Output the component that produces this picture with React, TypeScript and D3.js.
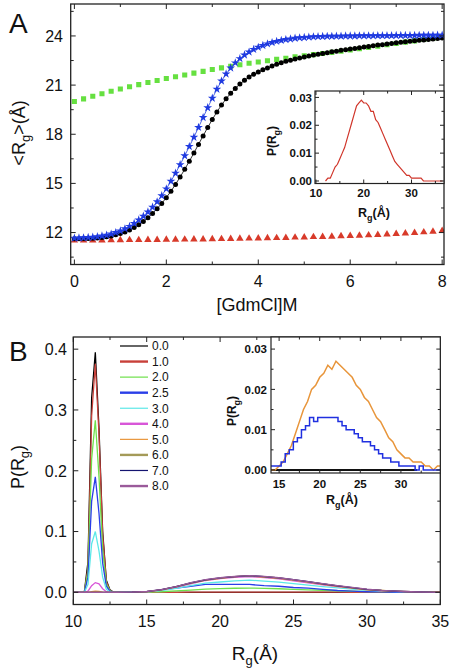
import React from "react";
import * as d3 from "d3";

const FONT = "'Liberation Sans', Arial, Helvetica, sans-serif";

// ---------------- Panel A data ----------------
const CONC_FINE = d3.range(81).map((i) => i / 10); // 0..8 step 0.1
const CONC_COARSE = d3.range(41).map((i) => i / 5); // 0..8 step 0.2

const BLUE_STARS = [
  11.66, 11.67, 11.68, 11.7, 11.72, 11.75, 11.79, 11.84, 11.91, 12.0,
  12.1, 12.23, 12.38, 12.56, 12.77, 13.0, 13.26, 13.55, 13.88, 14.25,
  14.67, 15.13, 15.62, 16.14, 16.69, 17.25, 17.82, 18.42, 19.02, 19.62,
  20.2, 20.75, 21.25, 21.68, 22.05, 22.36, 22.62, 22.84, 23.02, 23.18,
  23.31, 23.42, 23.52, 23.6, 23.67, 23.73, 23.78, 23.82, 23.86, 23.89,
  23.91, 23.93, 23.95, 23.96, 23.97, 23.98, 23.98, 23.99, 23.99, 24.0,
  24.0, 24.0, 24.01, 24.01, 24.01, 24.01, 24.02, 24.02, 24.02, 24.02,
  24.03, 24.03, 24.03, 24.03, 24.03, 24.04, 24.04, 24.04, 24.04, 24.05,
  24.05,
];

const BLACK_DOTS = [
  11.62, 11.62, 11.63, 11.64, 11.65, 11.67, 11.7, 11.74, 11.79, 11.86,
  11.94, 12.04, 12.16, 12.31, 12.48, 12.68, 12.91, 13.17, 13.46, 13.78,
  14.13, 14.52, 14.94, 15.39, 15.86, 16.35, 16.86, 17.38, 17.9, 18.41,
  18.9, 19.36, 19.78, 20.16, 20.5, 20.8, 21.06, 21.29, 21.49, 21.66,
  21.8, 21.93, 22.05, 22.16, 22.27, 22.37, 22.45, 22.52, 22.59, 22.65,
  22.71, 22.77, 22.83, 22.88, 22.93, 22.98, 23.03, 23.07, 23.12, 23.16,
  23.2, 23.24, 23.28, 23.32, 23.36, 23.4, 23.44, 23.47, 23.51, 23.54,
  23.58, 23.61, 23.64, 23.67, 23.7, 23.73, 23.76, 23.79, 23.82, 23.85,
  23.88,
];

const GREEN_SQUARES = [
  20.0, 20.16, 20.32, 20.47, 20.62, 20.76, 20.9, 21.03, 21.16, 21.28,
  21.4, 21.51, 21.62, 21.73, 21.84, 21.95, 22.05, 22.15, 22.24, 22.33,
  22.41, 22.49, 22.57, 22.64, 22.72, 22.79, 22.86, 22.93, 23.0, 23.07,
  23.14, 23.22, 23.3, 23.38, 23.46, 23.54, 23.62, 23.7, 23.78, 23.87,
  23.95,
];

const RED_TRIANGLES = [
  11.52, 11.52, 11.53, 11.53, 11.54, 11.54, 11.55, 11.55, 11.56, 11.56,
  11.57, 11.57, 11.58, 11.59, 11.59, 11.6, 11.61, 11.62, 11.63, 11.64,
  11.65, 11.66, 11.67, 11.68, 11.7, 11.71, 11.73, 11.74, 11.76, 11.78,
  11.8, 11.82, 11.84, 11.86, 11.89, 11.92, 11.95, 11.98, 12.02, 12.06,
  12.1,
];

const A_X_TICKS = [0, 2, 4, 6, 8];
const A_X_MINOR = [1, 3, 5, 7];
const A_Y_TICKS = [12, 15, 18, 21, 24];
const A_Y_MINOR = [10.5, 13.5, 16.5, 19.5, 22.5, 25.5];

// Inset A
const RG_INSET_A = d3.range(50).map((i) => 12 + i * 0.5);
const P_INSET_A = [
  0, 0.001, 0.001, 0.003, 0.005, 0.006, 0.008, 0.01, 0.012, 0.015,
  0.018, 0.021, 0.024, 0.027, 0.028, 0.029, 0.028, 0.028, 0.027, 0.025,
  0.025, 0.022, 0.021, 0.019, 0.017, 0.015, 0.013, 0.011, 0.009, 0.007,
  0.006, 0.005, 0.004, 0.003, 0.002, 0.002, 0.001, 0.001, 0.001, 0.001,
  0.001, 0, 0, 0, 0, 0, 0, 0, 0, 0,
];
const IA_X_TICKS = [10, 20, 30];
const IA_X_MINOR = [15, 25, 35];
const IA_Y_TICKS = [0, 0.01, 0.02, 0.03];
const IA_Y_MINOR = [0.005, 0.015, 0.025];

// ---------------- Panel B data ----------------
const RG_B = [
  10, 10.75, 11, 11.25, 11.5, 11.75, 12, 12.25, 12.5, 12.75,
  13, 14, 15, 16, 17, 18, 19, 20, 21, 22, 23, 24, 25, 26, 27, 28, 29, 30,
  31, 32, 33, 34, 35,
];

const P_00 = [
  0, 0, 0.05, 0.32, 0.395, 0.27, 0.1, 0.02, 0.004, 0,
  0, 0, 0, 0, 0, 0, 0, 0, 0, 0, 0, 0, 0, 0, 0, 0, 0, 0, 0, 0, 0, 0, 0,
];
const P_10 = [
  0, 0, 0.04, 0.29, 0.376, 0.26, 0.095, 0.018, 0.003, 0,
  0, 0, 0, 0, 0.0001, 0.0002, 0.0003, 0.0004, 0.0004, 0.0005, 0.0004, 0.0004,
  0.0003, 0.0003, 0.0002, 0.0002, 0.0001, 0.0001, 0, 0, 0, 0, 0,
];
const P_20 = [
  0, 0, 0.035, 0.22, 0.283, 0.19, 0.07, 0.014, 0.003, 0,
  0, 0, 0.0002, 0.001, 0.0023, 0.0038, 0.0052, 0.006, 0.0067, 0.007,
  0.0065, 0.0059, 0.005, 0.0042, 0.0034, 0.0026, 0.0018, 0.0011, 0.0007, 0.0004,
  0.0002, 0.0001, 0,
];
const P_25 = [
  0, 0, 0.025, 0.15, 0.19, 0.13, 0.048, 0.01, 0.002, 0,
  0.0005, 0.001, 0.001, 0.004, 0.007, 0.01, 0.013, 0.013, 0.013, 0.013,
  0.011, 0.01, 0.008, 0.007, 0.005, 0.003, 0.002, 0.001, 0.001, 0,
  0, 0, 0,
];
const P_30 = [
  0, 0, 0.013, 0.08, 0.1, 0.068, 0.025, 0.005, 0.001, 0,
  0, 0.0003, 0.001, 0.003, 0.0065, 0.011, 0.015, 0.017, 0.019, 0.02,
  0.0185, 0.0168, 0.0145, 0.012, 0.0095, 0.0073, 0.0052, 0.0033, 0.002, 0.0012,
  0.0006, 0.0002, 0,
];
const P_40 = [
  0, 0, 0.002, 0.011, 0.016, 0.014, 0.006, 0.001, 0, 0,
  0, 0.0003, 0.0012, 0.004, 0.0088, 0.014, 0.0195, 0.0225, 0.0245, 0.026,
  0.0242, 0.022, 0.0188, 0.0157, 0.0125, 0.0096, 0.0068, 0.0043, 0.0026, 0.0015,
  0.0008, 0.0003, 0,
];
const P_50 = [
  0, 0, 0, 0.001, 0.002, 0.0015, 0.0005, 0, 0, 0,
  0, 0, 0.001, 0.004, 0.009, 0.015, 0.02, 0.023, 0.026, 0.027,
  0.025, 0.023, 0.02, 0.017, 0.013, 0.01, 0.007, 0.004, 0.003, 0.002,
  0.001, 0, 0.001,
];
const P_60 = [
  0, 0, 0, 0, 0, 0, 0, 0, 0, 0,
  0, 0.0002, 0.0012, 0.0042, 0.0092, 0.0152, 0.0202, 0.0235, 0.0258, 0.0272,
  0.0258, 0.0236, 0.0205, 0.0172, 0.0138, 0.0105, 0.0075, 0.0048, 0.003, 0.0017,
  0.0009, 0.0003, 0,
];
const P_70 = [
  0, 0, 0, 0, 0, 0, 0, 0, 0, 0,
  0, 0.0002, 0.0013, 0.0043, 0.0093, 0.0155, 0.0205, 0.0238, 0.026, 0.0274,
  0.026, 0.0238, 0.0208, 0.0175, 0.0141, 0.0108, 0.0078, 0.005, 0.0031, 0.0018,
  0.001, 0.0004, 0,
];
const P_80 = [
  0, 0, 0, 0, 0, 0, 0, 0, 0, 0,
  0, 0.0003, 0.0014, 0.0045, 0.0095, 0.0158, 0.0208, 0.024, 0.0262, 0.0276,
  0.0262, 0.024, 0.021, 0.0177, 0.0143, 0.011, 0.008, 0.0052, 0.0032, 0.0019,
  0.001, 0.0004, 0,
];

const B_LABELS = ["0.0", "1.0", "2.0", "2.5", "3.0", "4.0", "5.0", "6.0", "7.0", "8.0"];
const B_SERIES = [P_00, P_10, P_20, P_25, P_30, P_40, P_50, P_60, P_70, P_80];
const B_COLORS = [
  "#000000", "#c8403a", "#6ee04a", "#2a3ee8", "#5ce8e8",
  "#d856d8", "#e8953a", "#a49a58", "#141470", "#9a5a9a",
];
const B_LEGEND_WIDTHS = [1.2, 2.4, 1.2, 2.4, 1.2, 2.4, 1.2, 2.4, 1.2, 2.4];

const B_X_TICKS = [10, 15, 20, 25, 30, 35];
const B_X_MINOR = [12.5, 17.5, 22.5, 27.5, 32.5];
const B_Y_TICKS = [0, 0.1, 0.2, 0.3, 0.4];
const B_Y_MINOR = [0.05, 0.15, 0.25, 0.35];

// Inset B
const RG_INSET_B = d3.range(43).map((i) => 14 + i * 0.5);
const P_INSET_B_50 = [
  0, 0, 0.001, 0.002, 0.004, 0.006, 0.009, 0.012, 0.015, 0.017,
  0.02, 0.021, 0.023, 0.024, 0.026, 0.025, 0.027, 0.026, 0.025, 0.024,
  0.023, 0.021, 0.02, 0.018, 0.017, 0.015, 0.013, 0.012, 0.01, 0.008,
  0.007, 0.005, 0.004, 0.003, 0.003, 0.002, 0.002, 0.002, 0.001, 0.001,
  0, 0.001, 0.001,
];
const P_INSET_B_25 = [
  0.001, 0.001, 0.001, 0.002, 0.004, 0.005, 0.007, 0.008, 0.01, 0.011,
  0.013, 0.012, 0.013, 0.013, 0.013, 0.013, 0.013, 0.012, 0.011, 0.01,
  0.01, 0.009, 0.008, 0.007, 0.007, 0.006, 0.005, 0.004, 0.003, 0.003,
  0.002, 0.002, 0.001, 0.001, 0.001, 0.001, 0, 0.001, 0, 0,
  0, 0, 0,
];
const P_INSET_B_00 = [
  0, 0, 0, 0, 0, 0, 0, 0, 0, 0,
  0, 0, 0, 0, 0, 0, 0, 0, 0, 0,
  0, 0, 0, 0, 0, 0, 0, 0, 0, 0,
  0, 0, 0, 0, 0, 0, 0,
];
const IB_X_TICKS = [15, 20, 25, 30];
const IB_X_MINOR = [17.5, 22.5, 27.5, 32.5];
const IB_Y_TICKS = [0, 0.01, 0.02, 0.03];
const IB_Y_MINOR = [0.005, 0.015, 0.025];

// ---------------- Scales ----------------
const xA = d3.scaleLinear().domain([-0.08, 8.04]).range([70.7, 444]);
const yA = d3.scaleLinear().domain([10.05, 25.95]).range([264.5, 4]);
const xIA = d3.scaleLinear().domain([9.8, 36.8]).range([315, 444]);
const yIA = d3.scaleLinear().domain([-0.0009, 0.0323]).range([183.5, 91]);
const xB = d3.scaleLinear().domain([10, 35]).range([73.3, 440.3]);
const yB = d3.scaleLinear().domain([-0.02, 0.42]).range([604.5, 337]);
const xIB = d3.scaleLinear().domain([14, 34.85]).range([271, 440.3]);
const yIB = d3.scaleLinear().domain([-0.00075, 0.033]).range([473, 337]);

type Scale = d3.ScaleLinear<number, number>;

function Axes(props: {
  x: Scale;
  y: Scale;
  xMajor: number[];
  xMinor: number[];
  yMajor: number[];
  yMinor: number[];
  xFmt: (v: number) => string;
  yFmt: (v: number) => string;
  tl: number;
  tm: number;
  fs: number;
  bold?: boolean;
  xLabY: number;
  yLabX: number;
  sw?: number;
}) {
  const { x, y, xMajor, xMinor, yMajor, yMinor, xFmt, yFmt, tl, tm, fs, bold, xLabY, yLabX } = props;
  const [x0, x1] = x.range();
  const [yb, yt] = y.range();
  const sw = props.sw ?? 1.3;
  const ticks: React.ReactNode[] = [];
  const addX = (v: number, len: number, k: string) => {
    ticks.push(<line key={"xb" + k} x1={x(v)} x2={x(v)} y1={yb} y2={yb - len} />);
    ticks.push(<line key={"xt" + k} x1={x(v)} x2={x(v)} y1={yt} y2={yt + len} />);
  };
  const addY = (v: number, len: number, k: string) => {
    ticks.push(<line key={"yl" + k} x1={x0} x2={x0 + len} y1={y(v)} y2={y(v)} />);
    ticks.push(<line key={"yr" + k} x1={x1} x2={x1 - len} y1={y(v)} y2={y(v)} />);
  };
  xMajor.forEach((v, i) => addX(v, tl, "M" + i));
  xMinor.forEach((v, i) => addX(v, tm, "m" + i));
  yMajor.forEach((v, i) => addY(v, tl, "M" + i));
  yMinor.forEach((v, i) => addY(v, tm, "m" + i));
  return (
    <g>
      <g stroke="#222" strokeWidth={1}>{ticks}</g>
      <rect x={x0} y={yt} width={x1 - x0} height={yb - yt} fill="none" stroke="#222" strokeWidth={sw} />
      <g fontFamily={FONT} fontSize={fs} fontWeight={bold ? "bold" : "normal"} fill="#111">
        {xMajor.map((v, i) => (
          <text key={"xl" + i} x={x(v)} y={xLabY} textAnchor="middle">
            {xFmt(v)}
          </text>
        ))}
        {yMajor.map((v, i) => (
          <text key={"yl" + i} x={yLabX} y={y(v)} textAnchor="end" dy="0.36em">
            {yFmt(v)}
          </text>
        ))}
      </g>
    </g>
  );
}

export default function App() {
  const star = d3.symbol().type(d3.symbolStar).size(24)() as string;
  const square = d3.symbol().type(d3.symbolSquare).size(26)() as string;
  const tri = d3.symbol().type(d3.symbolTriangle).size(24)() as string;

  const lineA = d3
    .line<number>()
    .x((_, i) => xA(CONC_FINE[i]))
    .y((d) => yA(d));

  const lineIA = d3
    .line<number>()
    .x((_, i) => xIA(RG_INSET_A[i]))
    .y((d) => yIA(d));

  const lineB = d3
    .line<number>()
    .x((_, i) => xB(RG_B[i]))
    .y((d) => yB(d));

  const lineIB = d3
    .line<number>()
    .x((_, i) => xIB(RG_INSET_B[i]))
    .y((d) => yIB(d));

  const lineIBStep = d3
    .line<number>()
    .curve(d3.curveStep)
    .x((_, i) => xIB(RG_INSET_B[i]))
    .y((d) => yIB(d));

  const f0 = (v: number) => d3.format("d")(v);
  const f2 = (v: number) => d3.format(".2f")(v);
  const f1 = (v: number) => d3.format(".1f")(v);

  return (
    <svg
      width={453}
      height={672}
      style={{ position: "absolute", left: 0, top: 0, background: "#fff" }}
      fontFamily={FONT}
    >
      <rect x={0} y={0} width={453} height={672} fill="#fff" />

      <defs>
        <clipPath id="clipA">
          <rect x={70.7} y={4} width={444 - 70.7} height={260.5} />
        </clipPath>
        <clipPath id="clipB">
          <rect x={73.3} y={337} width={440.3 - 73.3} height={267.5} />
        </clipPath>
        <clipPath id="clipIB">
          <rect x={271} y={337} width={440.3 - 271} height={136} />
        </clipPath>
        <clipPath id="clipIA">
          <rect x={315} y={91} width={444 - 315} height={92.5} />
        </clipPath>
      </defs>

      {/* ================= Panel A ================= */}
      <g clipPath="url(#clipA)">
        {RED_TRIANGLES.map((v, i) => (
          <path key={"rt" + i} d={tri} transform={`translate(${xA(CONC_COARSE[i])},${yA(v)})`} fill="#d83a2a" />
        ))}
        {GREEN_SQUARES.map((v, i) => (
          <path key={"gs" + i} d={square} transform={`translate(${xA(CONC_COARSE[i])},${yA(v)})`} fill="#66e040" />
        ))}
        <path d={lineA(BLACK_DOTS) as string} fill="none" stroke="#000" strokeWidth={0.8} />
        {BLACK_DOTS.map((v, i) => (
          <circle key={"bd" + i} cx={xA(CONC_FINE[i])} cy={yA(v)} r={2.5} fill="#000" />
        ))}
        <path d={lineA(BLUE_STARS) as string} fill="none" stroke="#2040e0" strokeWidth={0.8} />
        {BLUE_STARS.map((v, i) => (
          <path key={"bs" + i} d={star} transform={`translate(${xA(CONC_FINE[i])},${yA(v)})`} fill="#1f3ae0" />
        ))}
      </g>

      <Axes
        x={xA}
        y={yA}
        xMajor={A_X_TICKS}
        xMinor={A_X_MINOR}
        yMajor={A_Y_TICKS}
        yMinor={A_Y_MINOR}
        xFmt={f0}
        yFmt={f0}
        tl={5}
        tm={3}
        fs={16}
        xLabY={287}
        yLabX={63}
      />

      {/* Inset A */}
      <rect x={315} y={91} width={444 - 315} height={92.5} fill="#fff" />
      <g clipPath="url(#clipIA)">
        <path d={lineIA(P_INSET_A) as string} fill="none" stroke="#d0352a" strokeWidth={1.2} />
      </g>
      <Axes
        x={xIA}
        y={yIA}
        xMajor={IA_X_TICKS}
        xMinor={IA_X_MINOR}
        yMajor={IA_Y_TICKS}
        yMinor={IA_Y_MINOR}
        xFmt={f0}
        yFmt={f2}
        tl={4}
        tm={2.5}
        fs={11.5}
        bold
        xLabY={197}
        yLabX={312}
        sw={1.2}
      />
      <text x={374} y={217} textAnchor="middle" fontSize={12.5} fontWeight="bold" fill="#111">
        R<tspan dy={3.5} fontSize={9}>g</tspan>
        <tspan dy={-3.5}>(Å)</tspan>
      </text>
      <text transform="translate(276,141) rotate(-90)" textAnchor="middle" fontSize={12} fontWeight="bold" fill="#111">
        P(R<tspan dy={3.5} fontSize={9}>g</tspan>
        <tspan dy={-3.5}>)</tspan>
      </text>

      <text x={257} y={311} textAnchor="middle" fontSize={18} fill="#111">
        [GdmCl]M
      </text>
      <text transform="translate(25,133) rotate(-90)" textAnchor="middle" fontSize={18} fill="#111">
        &lt;R<tspan dy={5} fontSize={13}>g</tspan>
        <tspan dy={-5}>&gt;(Å)</tspan>
      </text>
      <text x={9} y={33} fontSize={28} fill="#111">
        A
      </text>

      {/* ================= Panel B ================= */}
      <g clipPath="url(#clipB)">
        {B_SERIES.map((s, k) => (
          <path key={"bl" + k} d={lineB(s) as string} fill="none" stroke={B_COLORS[k]} strokeWidth={1.3} />
        ))}
      </g>
      <Axes
        x={xB}
        y={yB}
        xMajor={B_X_TICKS}
        xMinor={B_X_MINOR}
        yMajor={B_Y_TICKS}
        yMinor={B_Y_MINOR}
        xFmt={f0}
        yFmt={f1}
        tl={5}
        tm={3}
        fs={16}
        xLabY={627}
        yLabX={67}
      />

      <g>
        {B_LABELS.map((lab, k) => (
          <g key={"lg" + k}>
            <line x1={120} x2={148} y1={346 + k * 15.56} y2={346 + k * 15.56} stroke={B_COLORS[k]} strokeWidth={B_LEGEND_WIDTHS[k]} />
            <text x={152} y={346 + k * 15.56} dy="0.36em" fontSize={12} fill="#111">
              {lab}
            </text>
          </g>
        ))}
      </g>

      {/* Inset B */}
      <rect x={271} y={337} width={440.3 - 271} height={136} fill="#fff" />
      <g clipPath="url(#clipIB)">
        <path d={lineIB(P_INSET_B_00) as string} fill="none" stroke="#111" strokeWidth={2} />
        <path d={lineIB(P_INSET_B_50) as string} fill="none" stroke="#e8953a" strokeWidth={1.5} />
        <path d={lineIBStep(P_INSET_B_25) as string} fill="none" stroke="#2030e0" strokeWidth={1.5} />
      </g>
      <Axes
        x={xIB}
        y={yIB}
        xMajor={IB_X_TICKS}
        xMinor={IB_X_MINOR}
        yMajor={IB_Y_TICKS}
        yMinor={IB_Y_MINOR}
        xFmt={f0}
        yFmt={f2}
        tl={4}
        tm={2.5}
        fs={11.5}
        bold
        xLabY={488}
        yLabX={267}
        sw={1.2}
      />
      <text x={342} y={504} textAnchor="middle" fontSize={12.5} fontWeight="bold" fill="#111">
        R<tspan dy={3.5} fontSize={9}>g</tspan>
        <tspan dy={-3.5}>(Å)</tspan>
      </text>
      <text transform="translate(236,411) rotate(-90)" textAnchor="middle" fontSize={12} fontWeight="bold" fill="#111">
        P(R<tspan dy={3.5} fontSize={9}>g</tspan>
        <tspan dy={-3.5}>)</tspan>
      </text>

      <text x={255} y={660} textAnchor="middle" fontSize={19} fill="#111">
        R<tspan dy={5} fontSize={13}>g</tspan>
        <tspan dy={-5}>(Å)</tspan>
      </text>
      <text transform="translate(24,467) rotate(-90)" textAnchor="middle" fontSize={18} fill="#111">
        P(R<tspan dy={5} fontSize={13}>g</tspan>
        <tspan dy={-5}>)</tspan>
      </text>
      <text x={9} y={361} fontSize={28} fill="#111">
        B
      </text>
    </svg>
  );
}
